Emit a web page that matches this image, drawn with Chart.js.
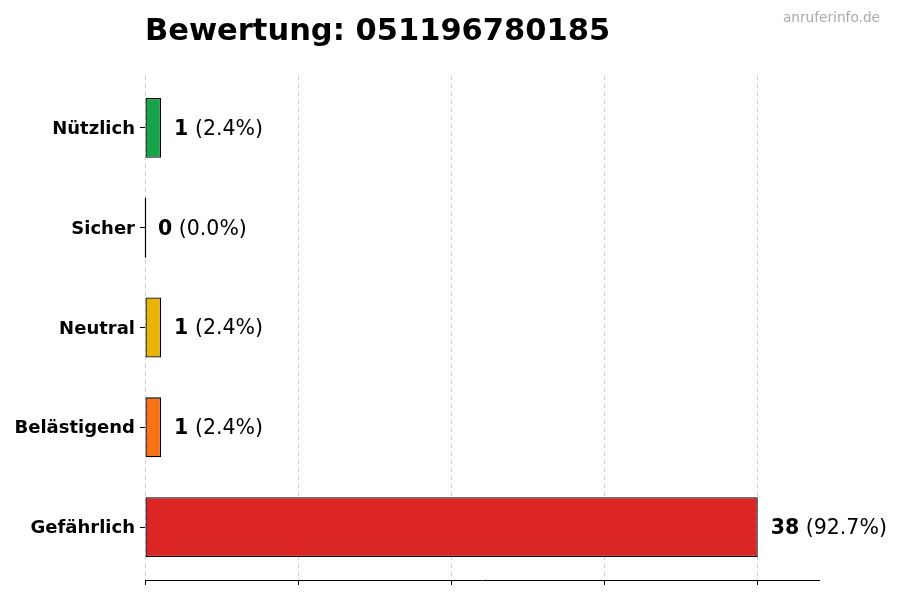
<!DOCTYPE html>
<html>
<head>
<meta charset="utf-8">
<script src="https://cdn.jsdelivr.net/npm/chart.js@4/dist/chart.umd.min.js"></script>
<style>
  html, body { margin: 0; padding: 0; background: #ffffff; }
  #wrap { width: 900px; height: 600px; position: relative; }
</style>
</head>
<body>
<div id="wrap"><canvas id="c" width="900" height="600"></canvas></div>
<script>
const titleText = 'Bewertung: 051196780185';
const watermark = 'anruferinfo.de';
const categories = ['Nützlich', 'Sicher', 'Neutral', 'Belästigend', 'Gefährlich'];
const counts = [1, 0, 1, 1, 38];
const barColors = ['#16a34a', '#9ca3af', '#eab308', '#f97316', '#dc2626'];
const xTicks = [0, 9.5, 19, 28.5, 38];
const xMax = 41.8;
const yMargin = 0.53;

const total = counts.reduce((a, b) => a + b, 0);
const FONT = "'DejaVu Sans', sans-serif";

const overlay = {
  id: 'overlay',
  afterDatasetsDraw(chart) {
    const ctx = chart.ctx;
    const meta = chart.getDatasetMeta(0);
    ctx.save();
    meta.data.forEach((el, i) => {
      const p = el.getProps(['x', 'y', 'base', 'height'], true);
      if (counts[i] === 0) {
        ctx.strokeStyle = '#000000';
        ctx.lineWidth = 1.2;
        ctx.beginPath();
        ctx.moveTo(Math.round(p.base) + 0.5, p.y - p.height / 2);
        ctx.lineTo(Math.round(p.base) + 0.5, p.y + p.height / 2);
        ctx.stroke();
      }
      const pct = (total ? counts[i] / total * 100 : 0).toFixed(1);
      let x = p.x + 13;
      const ty = p.y + 1.5;
      ctx.textBaseline = 'middle';
      ctx.textAlign = 'left';
      ctx.fillStyle = '#000000';
      ctx.font = 'bold 20.5px ' + FONT;
      const boldTxt = String(counts[i]);
      ctx.fillText(boldTxt, x, ty);
      x += ctx.measureText(boldTxt).width;
      ctx.font = '20.5px ' + FONT;
      ctx.fillText(' (' + pct + '%)', x, ty);
    });
    ctx.restore();
  },
  afterDraw(chart) {
    const ctx = chart.ctx;
    ctx.save();
    ctx.fillStyle = '#000000';
    ctx.font = 'bold 30.5px ' + FONT;
    ctx.textAlign = 'left';
    ctx.textBaseline = 'alphabetic';
    ctx.fillText(titleText, chart.chartArea.left, 40);
    ctx.fillStyle = '#aaaaaa';
    ctx.font = '13.7px ' + FONT;
    ctx.textAlign = 'right';
    ctx.textBaseline = 'middle';
    ctx.fillText(watermark, 880, 18);
    ctx.restore();
  }
};

new Chart(document.getElementById('c'), {
  type: 'bar',
  data: {
    labels: categories,
    datasets: [{
      data: counts,
      backgroundColor: barColors,
      borderColor: '#000000',
      borderWidth: 1.3,
      borderSkipped: false,
      barPercentage: 0.6,
      categoryPercentage: 1.0
    }]
  },
  options: {
    indexAxis: 'y',
    responsive: false,
    animation: false,
    devicePixelRatio: 1,
    layout: { padding: { top: 75, right: 81, left: 0, bottom: 0 } },
    plugins: {
      legend: { display: false },
      title: { display: false },
      tooltip: { enabled: false }
    },
    scales: {
      x: {
        type: 'linear',
        min: 0,
        max: xMax,
        z: 1,
        afterBuildTicks(scale) { scale.ticks = xTicks.map(v => ({ value: v })); },
        afterFit(scale) { scale.height = 20; },
        ticks: { display: false },
        grid: {
          color: '#d4d4d4',
          lineWidth: 1,
          drawTicks: true,
          tickLength: 5,
          tickColor: '#000000',
          tickBorderDash: []
        },
        border: { display: true, color: '#000000', width: 1, dash: [5, 3] }
      },
      y: {
        type: 'category',
        offset: true,
        afterBuildTicks(scale) {
          if (!scale._marginPatched) {
            const orig = scale.configure;
            scale.configure = function () {
              orig.call(this);
              this._startValue = this.min - yMargin;
              this._valueRange = (this.max - this.min) + 2 * yMargin;
            };
            scale._marginPatched = true;
          }
        },
        afterFit(scale) { scale.width = 145; },
        ticks: {
          color: '#000000',
          padding: 5,
          labelOffset: 1.5,
          font: { family: FONT, size: 18, weight: 'bold' }
        },
        grid: {
          offset: false,
          drawOnChartArea: false,
          drawTicks: true,
          tickLength: 5,
          color: '#000000'
        },
        border: { display: false }
      }
    }
  },
  plugins: [overlay]
});
</script>
</body>
</html>
